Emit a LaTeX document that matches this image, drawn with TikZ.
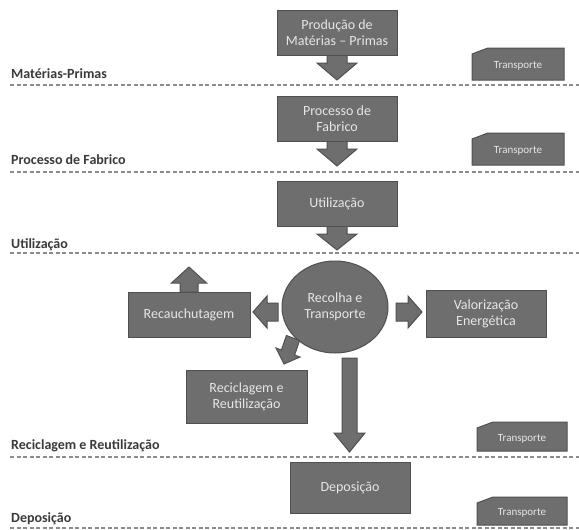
\documentclass[tikz,border=0pt]{standalone}
\usepackage{fontspec}
\setmainfont{Carlito}
\usetikzlibrary{shapes.geometric}
\definecolor{boxfill}{HTML}{6E6E6E}
\definecolor{boxline}{HTML}{505050}
\definecolor{boxtext}{HTML}{E6E6E6}
\definecolor{labtext}{HTML}{3A3A3A}
\definecolor{dashcol}{HTML}{8C8C8C}
\begin{document}
\begin{tikzpicture}[x=1pt,y=-1pt,
  box/.style={draw=boxline, fill=boxfill, line width=1pt, text=boxtext,
    font=\fontsize{14}{16}\selectfont, align=center, inner sep=0pt},
  blockarrow/.style={draw=boxline, fill=boxfill, line width=1pt, line join=miter},
  tbox/.style={draw=boxline, fill=boxfill, line width=1pt},
  ttext/.style={text=boxtext, font=\fontsize{11}{13}\selectfont, inner sep=0pt},
  stage/.style={text=labtext, font=\fontsize{14}{16}\selectfont\bfseries, anchor=west, inner sep=0pt},
  sep/.style={draw=dashcol, line width=1.1pt, dash pattern=on 4pt off 2.5pt}]
\useasboundingbox[fill=white] (0,0) rectangle (579,530);

% separators
\foreach \yy in {85,172,253,457,528} \draw[sep] (10,\yy) -- (579,\yy);

% stage labels
\node[stage] (l1) at (11,74) {Matérias-Primas};
\node[stage] (l2) at (11,160) {Processo de Fabrico};
\node[stage] (l3) at (11,245) {Utilização};
\node[stage] (l4) at (11,446) {Reciclagem e Reutilização};
\node[stage] (l5) at (11,519) {Deposição};

% down arrows under top boxes
\foreach \yb/\yh/\yt in {54/63/80, 140/149/166, 225/234/250}
  \draw[blockarrow] (327,\yb) -- (347,\yb) -- (347,\yh) -- (357,\yh) -- (337,\yt) -- (317,\yh) -- (327,\yh) -- cycle;

% top boxes
\node[box, minimum width=120, minimum height=45] (b1) at (337,32.5) {Produção de\\Matérias -- Primas};
\node[box, minimum width=120, minimum height=45] (b2) at (337,118.5) {Processo de\\Fabrico};
\node[box, minimum width=120, minimum height=45] (b3) at (337,203.5) {Utilização};

% central ellipse
\node[box, ellipse, minimum width=106, minimum height=92] (rt) at (335,307) {Recolha e\\Transporte};

% side boxes
\node[box, minimum width=122, minimum height=45] (rc) at (189,314.5) {Recauchutagem};
\node[box, minimum width=120, minimum height=47] (ve) at (486,313.5) {Valorização\\Energética};
\node[box, minimum width=121, minimum height=53] (rr) at (246.5,396.5) {Reciclagem e\\Reutilização};
\node[box, minimum width=120, minimum height=51] (dp) at (350,487.5) {Deposição};

% up arrow above Recauchutagem
\draw[blockarrow] (180,292) -- (180,283) -- (171.5,283) -- (189,267) -- (206.5,283) -- (198,283) -- (198,292) -- cycle;
% left arrow
\draw[blockarrow] (278,303) -- (267,303) -- (267,296) -- (253,312) -- (267,328) -- (267,321) -- (278,321) -- cycle;
% right arrow
\draw[blockarrow] (396,303) -- (408,303) -- (408,296) -- (422,312) -- (408,328) -- (408,321) -- (396,321) -- cycle;
% diagonal arrow
\draw[blockarrow] (286.4,335.5) -- (299.6,340.5) -- (294.6,355) -- (300,357) -- (284,364) -- (276,348) -- (281.4,350) -- cycle;
% long down arrow
\draw[blockarrow] (342,358) -- (357,358) -- (357,433) -- (365,433) -- (349.5,452) -- (334,433) -- (342,433) -- cycle;

% transport boxes
\foreach \n/\xa/\ya/\xb/\yb in {1/472/48/564/80, 2/472/133/564/165, 3/477/422/567/451, 4/477/497/567/525} {
  \draw[tbox] (\xa,\ya+6) -- (\xa+16,\ya) -- (\xb,\ya) -- (\xb,\yb) -- (\xa,\yb) -- cycle;
  \node[ttext] (t\n) at ({(\xa+\xb)/2},{(\ya+\yb)/2+2}) {Transporte};
}
\end{tikzpicture}
\end{document}
